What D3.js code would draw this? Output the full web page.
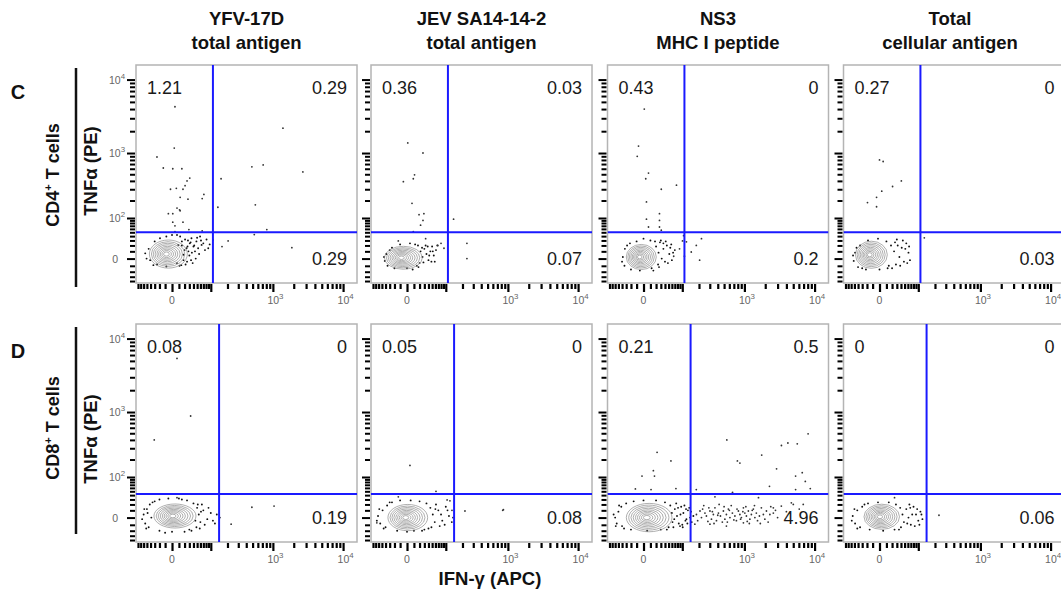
<!DOCTYPE html>
<html>
<head>
<meta charset="utf-8">
<script src="https://cdn.jsdelivr.net/npm/d3@7"></script>
<style>
  body { margin: 0; background: #fff; }
  svg { font-family: "Liberation Sans", Arial, sans-serif; }
</style>
</head>
<body>
<div id="chart"></div>
<script>
// ---- data ----

var columnTitles = [
    ["YFV-17D", "total antigen"],
    ["JEV SA14-14-2", "total antigen"],
    ["NS3", "MHC I peptide"],
    ["Total", "cellular antigen"]
];
var rowLetters = ["C", "D"];
var rowCells = ["CD4", "CD8"];

// quadrant percentages: [upper left, upper right, lower right]
var quadrantsC = [["1.21", "0.29", "0.29"], ["0.36", "0.03", "0.07"], ["0.43", "0", "0.2"], ["0.27", "0", "0.03"]];
var quadrantsD = [["0.08", "0", "0.19"], ["0.05", "0", "0.08"], ["0.21", "0.5", "4.96"], ["0", "0", "0.06"]];

// quadrant gates (IFN-g, TNFa) per row
var gateX = [110, 143];
var gateY = [50, 43];

// main population: centre and half spread (data units)
var clustersC = [
    {center: [-5, 6], half: [34, 22]},
    {center: [-5, 1], half: [34, 17]},
    {center: [-3, 2], half: [25, 19]},
    {center: [-12, 5], half: [28, 21]}
];
var clustersD = [
    {center: [4, 2], half: [39, 18]},
    {center: [1, 0], half: [36, 20]},
    {center: [8, 0], half: [44, 22]},
    {center: [3, 1], half: [31, 19]}
];
var contourLevels = [1, 0.88, 0.77, 0.66, 0.55, 0.45, 0.35, 0.25, 0.15];

// events outside the contours [IFN-g, TNFa]
var outliersC1 = [[4,4300],[3,1170],[-25,880],[-13,615],[1,600],[15,600],[31,440],[25,400],[21,340],[-2,300],[6,310],[17,300],
    [72,250],[66,215],[12,225],[27,210],[7,150],[11,140],[1,120],[-5,120],[12,135],[1,83],[17,83],[4,70],[29,58],[66,54],[4,52],
    [1400,2200],[488,640],[720,680],[2700,540],[155,430],[550,170],[136,155],[815,58],[530,44],[1880,16],[205,29],[161,18],[110,31]];
var outliersC2 = [[1,1380],[27,1000],[11,490],[9,430],[-5,390],[7,180],[29,120],[19,115],[27,90],[22,72],[9,52],[140,95],
    [237,24],[237,0],[80,24],[92,15],[66,20],[33,34],[-13,29]];
var outliersC3 = [[1,4000],[-7,1250],[-9,900],[7,520],[3,430],[76,345],[31,300],[4,190],[27,120],[4,95],[27,90],[7,66],[27,66],
    [31,56],[106,41],[101,29],[120,27],[220,34],[180,20],[147,9],[205,-2],[88,14],[66,3],[110,3]];
var outliersC4 = [[0,800],[5,760],[41,400],[21,330],[3,280],[-4,225],[-19,185],[-4,158],[130,36]];
var outliersD1 = [[7,5400],[33,880],[-31,400],[7,34],[488,15],[1040,17],[230,-9],[148,0]];
var outliersD2 = [[4,160],[62,50],[220,9],[840,10],[860,11],[120,27],[106,29],[131,10],[136,0],[-13,36],[-66,-7]];
var outliersD3 = [[22,260],[57,190],[15,130],[-2,104],[17,104],[-12,57],[11,55],[74,58],[180,55],[550,400],[790,190],[860,175],
    [1780,235],[3400,330],[4200,360],[5700,350],[8100,490],[2900,140],[2300,65],[5400,104],[6700,120],[7400,82],[8700,58],
    [5400,55],[670,47],
    [181,4],[208,9],[220,0],[251,6],[265,2],[302,9],[319,-2],[342,4],[362,14],[382,-4],[410,6],[440,2],[488,9],[514,-2],
    [542,4],[580,12],[612,0],[666,6],[726,2],[764,-4],[817,9],[860,4],[904,0],[968,14],[1016,6],[1070,2],[1142,9],[1202,-2],
    [1264,4],[1350,12],[1420,0],[1490,6],[1650,2],[1760,14],[1880,4],[1975,-2],[2080,9],[2330,4],[2610,6],[3390,17],[4700,23],
    [5010,20],[6920,20],[6080,12],[362,36],[650,44],[1600,34],[2610,14],[170,-9],[302,-9],[542,-12],[968,-7],
    [230,12],[280,-5],[330,8],[400,3],[470,-6],[600,10],[700,-3],[950,8],[1100,-5],[1300,10],[1550,-4],[2200,-6],[2800,10],
    [3000,0],[4000,8],[190,-4],[240,18],[290,14],[350,-8],[420,20],[500,16],[560,-6],[640,18],[780,12],[880,-2],[1050,16],
    [1180,-8],[1400,18],[1700,-8],[2400,16]];
var outliersD4 = [[233,3],[25,34]];

// dense events hugging the contours
var edgeC1 = [[9,21],[15,28],[21,32],[24,15],[28,10],[31,24],[35,35],[40,18],[48,28],[53,15],[59,39],[64,21],[70,24],[82,32],
    [89,15],[44,10],[18,5],[12,39],[7,43],[0,43],[-8,39],[-19,35],[-41,-2],[-51,0],[-55,7],[-33,-9],[-8,-11],[7,-6],[18,-2],
    [20,12],[26,18],[30,4],[36,8],[42,20],[25,-4],[33,26],[15,20],[22,-8],[38,-6],[46,0],[56,6],[62,30],[76,12],[95,22],
    [14,-9],[-25,-8],[-45,14],[-30,28],[50,36],[34,-2],[27,30],[11,-10]];
var edgeC2 = [[17,20],[22,10],[26,2],[30,14],[35,6],[40,-2],[45,10],[50,18],[55,4],[62,12],[28,-5],[20,-6],[12,22],[4,24],
    [-10,22],[-25,16],[-38,6],[-42,-3],[-35,-10],[-20,-14],[0,-14],[15,-10],[33,20],[48,-4],[18,-12],[38,18],[42,4],[58,-4],
    [68,20],[-30,12],[-44,2],[8,-16],[25,16],[52,10]];
var edgeC3 = [[20,18],[25,8],[28,26],[32,0],[36,14],[40,-4],[45,20],[52,6],[60,-2],[70,12],[24,-8],[10,30],[0,34],[-10,28],
    [-22,24],[-33,14],[-38,2],[-34,-10],[-20,-16],[-5,-18],[12,-14],[30,30],[42,28],[55,16],[18,28],[26,-12],[36,24],[48,-6],
    [58,22],[64,8],[-28,20],[-40,-4],[15,-18]];
var edgeC4 = [[10,28],[18,20],[24,10],[30,32],[36,2],[42,16],[48,-4],[55,24],[62,8],[67,-2],[28,-8],[14,-10],[-2,34],[-18,30],
    [-35,20],[-48,8],[-52,-3],[-40,-12],[-22,-16],[0,-16],[45,30],[20,-14],[52,14],[12,-14],[32,20],[38,-10],[58,-6],[64,18],
    [-44,16],[-54,4],[-30,-14],[26,26]];
var edgeD1 = [[-60,4],[-55,-8],[-50,12],[-45,-14],[-42,20],[-38,0],[-30,26],[-20,30],[-5,32],[10,32],[25,28],[40,22],[50,14],
    [55,4],[60,-6],[48,-14],[35,-20],[20,-22],[0,-22],[-20,-20],[70,10],[85,-2],[100,6],[120,-8],[65,20],[58,-16],[-48,6],[45,-4],
    [-65,-2],[-58,12],[-52,-16],[30,-18],[62,8],[75,-10],[90,14],[110,-4],[52,20],[-10,-24],[15,30],[-35,24],[130,4]];
var edgeD2 = [[-62,2],[-55,-8],[-48,10],[-40,-14],[-36,18],[-25,24],[-10,28],[5,28],[20,26],[35,22],[45,14],[52,4],[58,-6],
    [48,-14],[30,-18],[10,-20],[-15,-20],[70,10],[85,-4],[100,16],[115,2],[130,-6],[62,20],[75,-12],[-66,-4],[-58,12],[-45,-16],
    [40,-16],[60,12],[80,4],[95,-10],[108,10],[-30,24],[0,-22],[25,-20]];
var edgeD3 = [[-60,0],[-55,-8],[-50,8],[-42,16],[-40,-12],[-30,22],[-15,26],[0,28],[20,28],[40,24],[55,18],[60,6],[62,-6],
    [50,-14],[30,-18],[5,-20],[-20,-18],[70,12],[78,2],[85,-8],[95,16],[105,6],[115,-4],[128,10],[140,0],[75,22],[90,-12],
    [110,18],[65,-14],[100,-10],[120,-2],[135,14],[-65,4],[-58,-12],[-48,18],[68,-2],[82,14],[92,4],[102,-14],[118,12],
    [125,-8],[145,8],[150,-6],[-35,-16],[45,-18],[160,2]];
var edgeD4 = [[-55,2],[-48,-8],[-42,10],[-35,-14],[-30,16],[-18,22],[-2,24],[14,24],[28,20],[38,14],[44,4],[48,-6],[40,-14],
    [25,-18],[5,-20],[-15,-18],[55,12],[62,0],[70,-10],[80,16],[90,4],[100,-4],[110,8],[120,-2],[65,20],[85,-12],[-58,-4],
    [-50,12],[-42,-16],[58,-8],[68,14],[75,4],[95,12],[105,-10],[115,4],[-25,20],[35,-18]];

// axis ticks
var majorTicks = [0, 100, 1000, 10000];
var minorTicks = [-80,-70,-60,-50,-40,-30,-20,-10,10,20,30,40,50,60,70,80,90,
    200,300,400,500,600,700,800,900,2000,3000,4000,5000,6000,7000,8000,9000];
var xTickLabels = [0, 1000, 10000];
var yTickLabels = [0, 100, 1000, 10000];

// ---- layout ----
var svgWidth = 1061;
var svgHeight = 595;
var panelLeft = [136, 371, 607.5, 843.5];
var rowTop = [65, 324];
var panelW = 221;
var panelH = 218;
var xDomain = [-88, 15700];
var yDomain = [-45, 15700];

var svg = d3.select("#chart")
    .append("svg")
    .attr("width", svgWidth)
    .attr("height", svgHeight);

var rows = [
    {quads: quadrantsC, clusters: clustersC, outliers: [outliersC1, outliersC2, outliersC3, outliersC4], edges: [edgeC1, edgeC2, edgeC3, edgeC4]},
    {quads: quadrantsD, clusters: clustersD, outliers: [outliersD1, outliersD2, outliersD3, outliersD4], edges: [edgeD1, edgeD2, edgeD3, edgeD4]}
];

// column titles
columnTitles.forEach(function(t, ci) {
    var cx = panelLeft[ci] + panelW / 2 - (ci === 3 ? 4 : 0);
    svg.append("text").attr("x", cx).attr("y", 24.5).attr("text-anchor", "middle")
        .attr("font-size", "18.5px").attr("font-weight", "bold").attr("fill", "#111").text(t[0]);
    svg.append("text").attr("x", cx).attr("y", 48.5).attr("text-anchor", "middle")
        .attr("font-size", "18.5px").attr("font-weight", "bold").attr("fill", "#111").text(t[1]);
});

function supLabel(sel, base, sup, size) {
    sel.append("tspan").text(base);
    sel.append("tspan").attr("dy", -size * 0.45).attr("font-size", size * 0.75 + "px").text(sup);
}

rows.forEach(function(row, ri) {
    var top = rowTop[ri];

    // row letter, cell label, bar and y title
    svg.append("text").attr("x", 18).attr("y", top + 34).attr("text-anchor", "middle")
        .attr("font-size", "20px").attr("font-weight", "bold").attr("fill", "#111").text(rowLetters[ri]);

    svg.append("line")
        .attr("x1", 76).attr("x2", 76)
        .attr("y1", top + 3).attr("y2", top + (ri === 0 ? 222 : 210))
        .attr("stroke", "#111").attr("stroke-width", 2.5);

    var cellLabel = svg.append("text")
        .attr("transform", "translate(59," + (top + (ri === 0 ? 110 : 104)) + ") rotate(-90)")
        .attr("text-anchor", "middle").attr("font-size", "18px").attr("font-weight", "bold").attr("fill", "#111");
    cellLabel.append("tspan").text(rowCells[ri]);
    cellLabel.append("tspan").attr("dy", -7).attr("font-size", "11px").text("+");
    cellLabel.append("tspan").attr("dy", 7).text(" T cells");

    svg.append("text")
        .attr("transform", "translate(97," + (top + (ri === 0 ? 106 : 115)) + ") rotate(-90)")
        .attr("text-anchor", "middle").attr("font-size", "18.5px").attr("font-weight", "bold").attr("fill", "#111")
        .text("TNF\u03b1 (PE)");

    for (var ci = 0; ci < 4; ci++) {
        var left = panelLeft[ci];
        var x = d3.scaleSymlog().constant(40).domain(xDomain).range([left, left + panelW]);
        var y = d3.scaleSymlog().constant(40).domain(yDomain).range([top + panelH, top]);
        var g = svg.append("g");

        var clipId = "clip" + ri + ci;
        svg.append("clipPath").attr("id", clipId).append("rect")
            .attr("x", left).attr("y", top).attr("width", panelW).attr("height", panelH);

        g.append("rect")
            .attr("x", left).attr("y", top).attr("width", panelW).attr("height", panelH)
            .attr("fill", "#fff").attr("stroke", "#b4b4b4").attr("stroke-width", 1.5);

        var inner = g.append("g").attr("clip-path", "url(#" + clipId + ")");

        // dense events at the contour edge
        inner.selectAll("circle.edge")
            .data(row.edges[ci])
            .enter()
            .append("circle")
            .attr("class", "edge")
            .attr("cx", d => x(d[0]))
            .attr("cy", d => y(d[1]))
            .attr("r", 0.95)
            .attr("fill", "#111");

        // contour rings
        var cl = row.clusters[ci];
        var rx = (x(cl.center[0] + cl.half[0]) - x(cl.center[0] - cl.half[0])) / 2;
        var ry = (y(cl.center[1] - cl.half[1]) - y(cl.center[1] + cl.half[1])) / 2;
        inner.selectAll("ellipse")
            .data(contourLevels)
            .enter()
            .append("ellipse")
            .attr("cx", d => x(cl.center[0]) - (1 - d) * rx * 0.12)
            .attr("cy", y(cl.center[1]))
            .attr("rx", d => rx * d)
            .attr("ry", d => ry * d)
            .attr("fill", "none")
            .attr("stroke", "#8c8c8c")
            .attr("stroke-width", 0.7);

        // scattered events
        inner.selectAll("circle.out")
            .data(row.outliers[ci])
            .enter()
            .append("circle")
            .attr("class", "out")
            .attr("cx", d => x(d[0]))
            .attr("cy", d => y(d[1]))
            .attr("r", 0.9)
            .attr("fill", "#333");

        // quadrant gates
        inner.append("line")
            .attr("x1", x(gateX[ri])).attr("x2", x(gateX[ri]))
            .attr("y1", top).attr("y2", top + panelH)
            .attr("stroke", "#1a1aff").attr("stroke-width", 2);
        inner.append("line")
            .attr("x1", left).attr("x2", left + panelW)
            .attr("y1", y(gateY[ri])).attr("y2", y(gateY[ri]))
            .attr("stroke", "#1a1aff").attr("stroke-width", 2);

        // quadrant numbers
        var q = row.quads[ci];
        g.append("text").attr("x", left + 11).attr("y", top + 29)
            .attr("font-size", "18px").attr("fill", "#1a1a1a").text(q[0]);
        g.append("text").attr("x", left + 211).attr("y", top + 29).attr("text-anchor", "end")
            .attr("font-size", "18px").attr("fill", "#1a1a1a").text(q[1]);
        g.append("text").attr("x", left + 211).attr("y", y(0) + 6).attr("text-anchor", "end")
            .attr("font-size", "18px").attr("fill", "#1a1a1a").text(q[2]);

        // tick marks
        var inX = v => v >= xDomain[0] && v <= xDomain[1];
        var inY = v => v >= yDomain[0] && v <= yDomain[1];
        [[minorTicks, 5], [majorTicks, 8]].forEach(function(t) {
            g.append("g")
                .attr("transform", "translate(0," + (top + panelH + 1) + ")")
                .call(d3.axisBottom(x).tickValues(t[0].filter(inX)).tickSize(t[1]).tickFormat(""))
                .call(a => a.select(".domain").remove())
                .selectAll("line").attr("stroke", "#000").attr("stroke-width", 2.2);
            g.append("g")
                .attr("transform", "translate(" + (left - 1) + ",0)")
                .call(d3.axisLeft(y).tickValues(t[0].filter(inY)).tickSize(t[1]).tickFormat(""))
                .call(a => a.select(".domain").remove())
                .selectAll("line").attr("stroke", "#000").attr("stroke-width", 2);
        });

        // tick labels (y labels only on the first column)
        xTickLabels.forEach(function(v) {
            var t = g.append("text").attr("y", top + panelH + 21).attr("font-size", "10.5px").attr("fill", "#666");
            if (v === 0) {
                t.attr("x", x(v)).attr("text-anchor", "middle").text("0");
            } else {
                t.attr("x", x(v) - 5.5);
                supLabel(t, "10", String(Math.round(Math.log10(v))), 10.5);
            }
        });
        if (ci === 0) {
            yTickLabels.forEach(function(v) {
                var t = g.append("text").attr("y", y(v) + 4).attr("font-size", "10.5px").attr("fill", "#666")
                    .attr("text-anchor", "end");
                if (v === 0) {
                    t.attr("x", left - 18).text("0");
                } else {
                    t.attr("x", left - 11);
                    supLabel(t, "10", String(Math.round(Math.log10(v))), 10.5);
                }
            });
        }
    }
});

// x axis title
svg.append("text").attr("x", 490).attr("y", 585).attr("text-anchor", "middle")
    .attr("font-size", "18.5px").attr("font-weight", "bold").attr("fill", "#111")
    .text("IFN-\u03b3 (APC)");
</script>
</body>
</html>
